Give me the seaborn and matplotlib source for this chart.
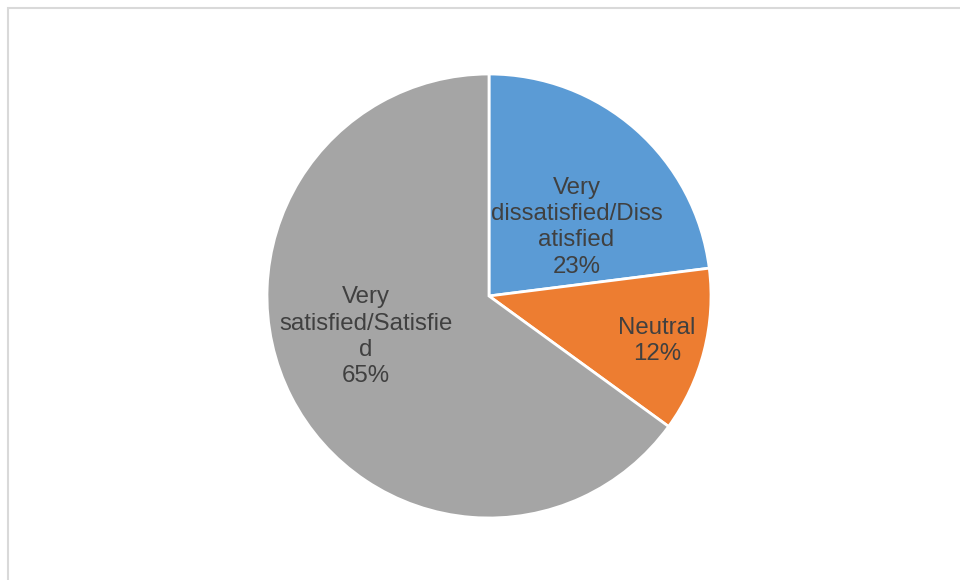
import matplotlib
matplotlib.use("Agg")
import matplotlib.pyplot as plt
from matplotlib.patches import Rectangle
import seaborn as sns

# Survey response shares (percent)
categories = ["Very dissatisfied/Dissatisfied", "Neutral", "Very satisfied/Satisfied"]
label_lines = ["Very\ndissatisfied/Diss\natisfied", "Neutral", "Very\nsatisfied/Satisfie\nd"]
shares = [23, 12, 65]
slice_colors = ["#5B9BD5", "#ED7D31", "#A5A5A5"]

sns.set_theme(style="white")
plt.rcParams["font.family"] = ["Liberation Sans", "DejaVu Sans"]

W, H = 960, 580
fig = plt.figure(figsize=(W / 100, H / 100), dpi=100)

# Light chart-area border
fig.patches.append(Rectangle((8 / W, -0.05), 1.2, (H - 8) / H + 0.05,
                             transform=fig.transFigure, fill=False,
                             edgecolor="#D9D9D9", linewidth=1.5))

cx, cy, r = 489, 296, 222
ax = fig.add_axes([(cx - r) / W, (H - cy - r) / H, 2 * r / W, 2 * r / H])

palette = sns.color_palette(slice_colors)
wedges, _ = ax.pie(shares, colors=palette, startangle=90, counterclock=False,
                   radius=1.0, wedgeprops=dict(edgecolor="white", linewidth=2))
ax.set_xlim(-1, 1)
ax.set_ylim(-1, 1)
ax.set_aspect("auto")
ax.axis("off")

# Label anchor points inside each slice (axes fraction)
label_anchor = [(0.697, 0.655), (0.878, 0.399), (0.223, 0.408)]
for text, value, (lx, ly) in zip(label_lines, shares, label_anchor):
    ax.text(lx, ly, f"{text}\n{value}%", transform=ax.transAxes,
            ha="center", va="center", fontsize=17.3, color="#404040",
            linespacing=1.26)

fig.savefig("out.png", dpi=100)
